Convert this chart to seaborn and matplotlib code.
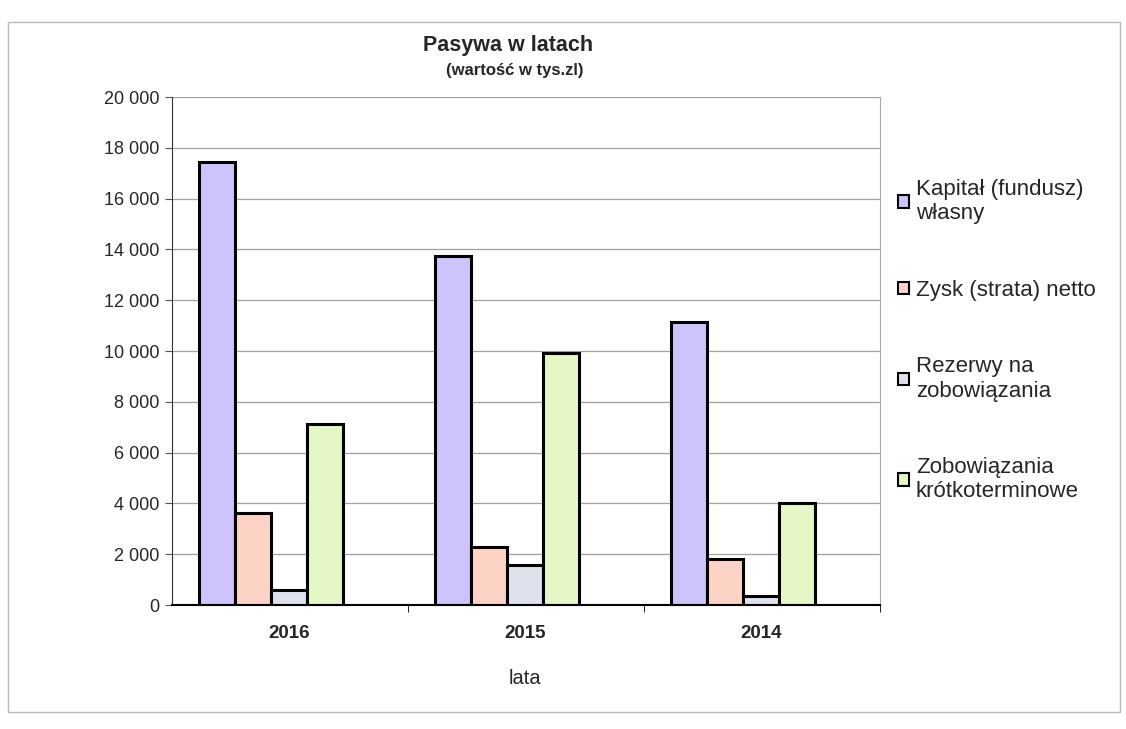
import matplotlib.pyplot as plt
import seaborn as sns
import pandas as pd
from matplotlib.patches import Rectangle, Patch
from matplotlib.ticker import FuncFormatter

years = ['2016', '2015', '2014']
series = ['Kapitał (fundusz)\nwłasny', 'Zysk (strata) netto',
          'Rezerwy na\nzobowiązania', 'Zobowiązania\nkrótkoterminowe']
kapital = [17440, 13740, 11140]
zysk = [3620, 2280, 1810]
rezerwy = [600, 1570, 350]
zobow = [7130, 9920, 4020]
colors = ['#cfc3fb', '#fdd3c6', '#dfe2ec', '#e5f7c4']

rows = []
for name, vals in zip(series, [kapital, zysk, rezerwy, zobow]):
    for y, v in zip(years, vals):
        rows.append({'rok': y, 'seria': name, 'wartosc': v})
df = pd.DataFrame(rows)

sns.set_style('white')
plt.rcParams['font.family'] = ['Liberation Sans', 'DejaVu Sans']

fig = plt.figure(figsize=(11.26, 7.29), dpi=100)
ax = fig.add_axes([172 / 1126, 1 - 605 / 729, 708 / 1126, 508 / 729])

sns.barplot(data=df, x='rok', y='wartosc', hue='seria', order=years,
            hue_order=series, palette=colors, width=0.61, edgecolor='black',
            linewidth=2.2, ax=ax, legend=False, saturation=1)

# bars sit a little left of the category labels, as in the original
ax.set_xlim(-0.42, 2.58)
ax.set_xticks([0.075, 1.075, 2.075], years)
ax.set_xticks([0.58, 1.58, 2.58], minor=True)
ax.set_ylim(0, 20000)
ax.set_yticks(range(0, 20001, 2000))
ax.yaxis.set_major_formatter(FuncFormatter(lambda v, p: f'{int(v):,}'.replace(',', ' ')))
ax.grid(axis='y', color='#a0a0a0', linewidth=0.9)
ax.set_axisbelow(True)
ax.spines['top'].set_visible(False)
ax.spines['right'].set_color('#aaaaaa')
ax.spines['left'].set_color('#333333')
ax.spines['bottom'].set_color('black')
ax.spines['bottom'].set_linewidth(1.5)

ax.tick_params(axis='y', left=True, length=5, labelsize=13, color='#555555', pad=4)
ax.tick_params(axis='x', which='major', bottom=False, labelsize=13.5, pad=11)
ax.tick_params(axis='x', which='minor', bottom=True, length=5, color='black')
for t in ax.get_xticklabels():
    t.set_fontweight('bold')

ax.set_ylabel('')
ax.set_xlabel('')
fig.text(525 / 1126, 1 - 679 / 729, 'lata', ha='center', va='center', fontsize=14.5)

fig.text(508 / 1126, 1 - 46 / 729, 'Pasywa w latach', ha='center', va='center',
         fontsize=15.5, fontweight='bold')
fig.text(515 / 1126, 1 - 70 / 729, '(wartość w tys.zl)', ha='center', va='center',
         fontsize=12, fontweight='bold')

handles = [Patch(facecolor=c, edgecolor='black', linewidth=1.5) for c in colors]
fig.legend(handles, series, loc='upper left', bbox_to_anchor=(898 / 1126, 1 - 179 / 729),
           frameon=False, fontsize=16, handlelength=0.5, handleheight=0.5,
           handletextpad=0.3, labelspacing=2.5, borderaxespad=0, borderpad=0)

fig.patches.append(Rectangle((8 / 1126, 1 - 712 / 729), 1112 / 1126, 690 / 729,
                             transform=fig.transFigure, fill=False,
                             edgecolor='#bbbbbb', linewidth=1))

fig.savefig('out.png', dpi=100)
